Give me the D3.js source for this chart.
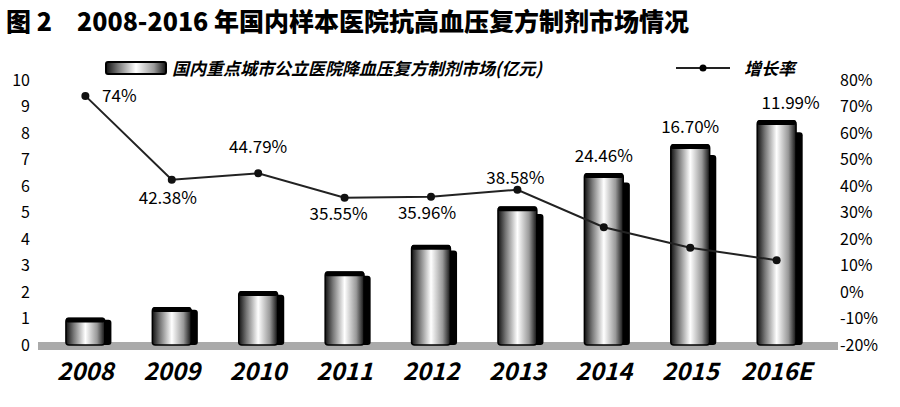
<!DOCTYPE html><html><head><meta charset="utf-8"><script src="https://cdn.jsdelivr.net/npm/d3@7"></script>
<style>body{margin:0;background:#fff}</style></head><body><svg id="c" width="900" height="407"></svg>
<script>
const categories=["2008","2009","2010","2011","2012","2013","2014","2015","2016E"];
const marketValues=[1.0,1.4,2.0,2.75,3.75,5.2,6.45,7.55,8.45];
const growthRates=[74,42.38,44.79,35.55,35.96,38.58,24.46,16.70,11.99];
const growthLabels=["74%","42.38%","44.79%","35.55%","35.96%","38.58%","24.46%","16.70%","11.99%"];
const leftTicks=[0,1,2,3,4,5,6,7,8,9,10];
const rightTicks=[-20,-10,0,10,20,30,40,50,60,70,80];
const svg=d3.select("#c");
const F="'Noto Sans CJK SC','Liberation Sans',Arial,sans-serif";
const x=d3.scaleBand().domain(categories).range([40,822]).paddingInner(0.55).paddingOuter(0.3);
const y=d3.scaleLinear().domain([0,10]).range([345,80]);
const y2=d3.scaleLinear().domain([-20,80]).range([345,80]);
const defs=svg.append("defs");
const g=defs.append("linearGradient").attr("id","cyl");
[[0,"#111"],[0.2,"#777"],[0.5,"#fff"],[0.8,"#999"],[1,"#111"]].forEach(s=>g.append("stop").attr("offset",s[0]).attr("stop-color",s[1]));
svg.append("text").attr("x",6).attr("y",31).attr("font-family",F).attr("font-weight",900).attr("font-size",25).text("图 2　2008-2016 年国内样本医院抗高血压复方制剂市场情况");
// legend
svg.append("rect").attr("x",106).attr("y",62).attr("width",60).attr("height",12).attr("rx",2).attr("fill","url(#cyl)").attr("stroke","#000").attr("stroke-width",2);
svg.append("text").attr("x",172).attr("y",75).attr("font-family",F).attr("font-style","italic").attr("font-weight",700).attr("font-size",17).text("国内重点城市公立医院降血压复方制剂市场(亿元)");
svg.append("line").attr("x1",676).attr("x2",730).attr("y1",68).attr("y2",68).attr("stroke","#222").attr("stroke-width",2);
svg.append("circle").attr("cx",703).attr("cy",68).attr("r",3.5);
svg.append("text").attr("x",744).attr("y",75).attr("font-family",F).attr("font-style","italic").attr("font-weight",700).attr("font-size",17).text("增长率");
// floor
svg.append("rect").attr("x",38).attr("y",342).attr("width",800).attr("height",8).attr("fill","#aaa");
// bars
const bw=x.bandwidth();
const bars=svg.append("g").selectAll("g").data(categories).join("g");
bars.append("rect").attr("x",d=>x(d)+bw*0.55).attr("y",(d,i)=>y(marketValues[i]*0.95)).attr("width",bw*0.62).attr("height",(d,i)=>345-y(marketValues[i]*0.95)).attr("rx",3).attr("fill","#000");
bars.append("rect").attr("x",d=>x(d)).attr("y",(d,i)=>y(marketValues[i])).attr("width",bw).attr("height",(d,i)=>345-y(marketValues[i])).attr("rx",3).attr("fill","url(#cyl)").attr("stroke","#000").attr("stroke-width",1.5);
bars.append("rect").attr("x",d=>x(d)).attr("y",(d,i)=>y(marketValues[i])-1).attr("width",bw).attr("height",5).attr("rx",2).attr("fill","#000");
// line
const cx=d=>x(d)+bw/2;
svg.append("path").datum(categories).attr("fill","none").attr("stroke","#222").attr("stroke-width",2)
 .attr("d",d3.line().x(d=>cx(d)).y((d,i)=>y2(growthRates[i])));
svg.append("g").selectAll("circle").data(categories).join("circle").attr("cx",cx).attr("cy",(d,i)=>y2(growthRates[i])).attr("r",4).attr("fill","#111");
// label anchors: line point for early years, bar top for the last three
const lblOff=[[34,6],[-4,24],[0,-20],[-6,22],[-4,22],[-2,-6],[0,-12],[0,-12],[14,-12]];
const useBar=[0,0,0,0,0,0,1,1,1];
svg.append("g").selectAll("text").data(categories).join("text").attr("font-family",F).attr("font-size",17).attr("text-anchor","middle")
 .attr("x",(d,i)=>cx(d)+lblOff[i][0]).attr("y",(d,i)=>(useBar[i]?y(marketValues[i]):y2(growthRates[i]))+lblOff[i][1]).text((d,i)=>growthLabels[i]);
// axes
const la=svg.append("g").attr("transform","translate(30,0)").call(d3.axisLeft(y).tickValues(leftTicks).tickSize(0).tickPadding(0));
const ra=svg.append("g").attr("transform","translate(840,0)").call(d3.axisRight(y2).tickValues(rightTicks).tickFormat(d=>d+"%").tickSize(0).tickPadding(0));
[la,ra].forEach(a=>{a.select(".domain").remove();a.selectAll("text").attr("font-family",F).attr("font-size",16).attr("fill","#000");});
const xa=svg.append("g").attr("transform","translate(0,360)").call(d3.axisBottom(x).tickSize(0));
xa.select(".domain").remove();
xa.selectAll("text").attr("font-family",F).attr("font-size",24).attr("font-weight",700).attr("font-style","italic").attr("fill","#000");
</script></body></html>
